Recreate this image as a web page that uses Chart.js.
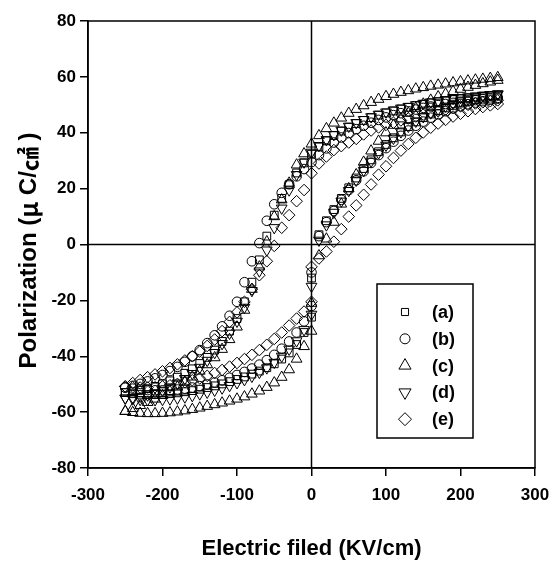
<!DOCTYPE html>
<html><head><meta charset="utf-8">
<script src="https://cdn.jsdelivr.net/npm/chart.js"></script>
<style>html,body{margin:0;padding:0;background:#fff}#wrap{width:549px;height:565px}</style>
</head><body><div id="wrap"><canvas id="c" width="549" height="565"></canvas></div>
<script>
// Field values (kV/cm): descending branch and ascending branch
const fieldUp = [250,240,230,220,210,200,190,180,170,160,150,140,130,120,110,100,90,80,70,60,50,40,30,20,10,0,-10,-20,-30,-40,-50,-60,-70,-80,-90,-100,-110,-120,-130,-140,-150,-160,-170,-180,-190,-200,-210,-220,-230,-240,-250];
const fieldLo = [-250,-240,-230,-220,-210,-200,-190,-180,-170,-160,-150,-140,-130,-120,-110,-100,-90,-80,-70,-60,-50,-40,-30,-20,-10,0,0,10,20,30,40,50,60,70,80,90,100,110,120,130,140,150,160,170,180,190,200,210,220,230,240,250];

const seriesLabels = ['(a)','(b)','(c)','(d)','(e)'];
const xTicks = [-300,-200,-100,0,100,200,300];
const yTicks = [-80,-60,-40,-20,0,20,40,60,80];
const xTitle = 'Electric filed (KV/cm)';
const yTitleParts = ['Polarization (', 'μ', ' C/', '㎠', ' )'];

const aUp = [53.5,53.3,53.1,52.8,52.5,52.2,51.9,51.5,51.1,50.7,50.2,49.7,49.1,48.5,47.8,47.1,46.3,45.4,44.4,43.3,42.0,40.6,39.0,37.1,34.9,32.3,29.2,25.6,21.4,16.5,10.5,3.0,-5.5,-13.5,-20.5,-26.5,-31,-34.7,-37.8,-40.4,-42.6,-44.5,-46.1,-47.5,-48.8,-49.9,-50.8,-51.6,-52.2,-52.7,-53];
const aLo = [-53,-53.4,-53.6,-53.7,-53.7,-53.6,-53.4,-53.1,-52.7,-52.3,-51.8,-51.2,-50.6,-49.9,-49.1,-48.3,-47.4,-46.4,-45.3,-44.1,-42.7,-41,-38.8,-35.8,-31.5,-26,-12,3.5,8.5,12.5,16.5,20.3,23.8,27.2,30.3,33.2,35.8,38.2,40.3,42.2,43.9,45.4,46.7,47.9,48.9,49.8,50.6,51.3,51.9,52.4,52.8,53.1];

const bUp = [52.5,52.3,52.0,51.7,51.4,51.1,50.7,50.3,49.9,49.4,48.9,48.3,47.7,47.0,46.3,45.5,44.6,43.6,42.5,41.3,39.9,38.3,36.5,34.4,32.0,29.5,27.0,24.4,21.6,18.5,14.4,8.5,0.5,-6,-13.5,-20.5,-25.5,-29.3,-32.5,-35.3,-37.8,-40,-42,-43.8,-45.3,-46.7,-47.9,-49,-49.9,-50.6,-51.2];
const bLo = [-51.2,-51.6,-51.9,-52.1,-52.2,-52.2,-52.1,-51.9,-51.6,-51.2,-50.7,-50.1,-49.4,-48.6,-47.7,-46.7,-45.6,-44.4,-43,-41.4,-39.5,-37.3,-34.7,-31.5,-27.5,-22,-10,3,8,12,16,19.5,23,26.2,29.2,32,34.5,36.8,38.9,40.8,42.5,44,45.4,46.6,47.7,48.7,49.5,50.2,50.8,51.3,51.8,52.2];

const cUp = [59.8,59.5,59.2,58.9,58.6,58.3,57.9,57.5,57.1,56.7,56.2,55.7,55.1,54.5,53.8,53.0,52.0,50.9,49.7,48.4,47.0,45.3,43.5,41.5,39.0,36.0,32.5,28.5,22,16,10,1,-8,-16,-23.5,-29.5,-34,-37.5,-40.5,-43,-45.3,-47.4,-49.3,-51,-52.6,-54,-55.3,-56.5,-57.6,-58.7,-59.7];
const cLo = [-59.7,-60.1,-60.4,-60.5,-60.5,-60.4,-60.2,-59.9,-59.5,-59.0,-58.5,-57.9,-57.3,-56.7,-56.0,-55.3,-54.5,-53.5,-52.4,-51.1,-49.5,-47.5,-44.8,-41.0,-36.5,-31,-21,-4,2,8,14.5,20,25,29.5,33.5,37,40,42.7,45,47,48.8,50.3,51.7,52.9,53.9,54.8,55.6,56.3,57,57.6,58.2,58.8];

const dUp = [53.8,53.6,53.4,53.1,52.8,52.5,52.2,51.8,51.4,51.0,50.5,50.0,49.4,48.8,48.1,47.4,46.6,45.7,44.7,43.6,42.3,40.9,39.3,37.5,35.4,33.0,29.5,25,19.5,13,6,-2,-9.5,-16.5,-22.5,-27.5,-31.8,-35.5,-38.7,-41.5,-44,-46.2,-48,-49.6,-51,-52.2,-53.1,-53.9,-54.4,-54.8,-55.0];
const dLo = [-55,-55.3,-55.5,-55.6,-55.6,-55.5,-55.3,-55.0,-54.6,-54.1,-53.5,-52.9,-52.2,-51.4,-50.5,-49.5,-48.4,-47.2,-45.8,-44.2,-42.2,-40,-37.5,-34.5,-30.5,-25,-15,1.5,7,11.5,15.5,19.3,23,26.5,29.8,32.8,35.5,38,40.3,42.3,44.1,45.7,47.1,48.4,49.5,50.5,51.4,52.1,52.7,53.2,53.6,53.9];

const eUp = [51.6,51.3,50.9,50.5,50.0,49.5,48.9,48.3,47.7,47.1,46.5,45.8,45.1,44.4,43.6,42.8,41.9,40.8,39.4,37.8,36.5,35.2,33.8,31.5,29.0,25.5,19.5,15.5,10.5,6,-0.5,-6,-11,-16,-20.5,-24.3,-27.7,-31,-34,-36.3,-38.3,-40,-41.5,-42.9,-44.2,-45.4,-46.5,-47.5,-48.5,-49.6,-50.8];
const eLo = [-50.8,-51.1,-51.2,-51.2,-51.1,-50.8,-50.4,-49.9,-49.3,-48.6,-47.9,-47,-46,-44.9,-43.7,-42.4,-41,-39.5,-37.8,-35.9,-33.8,-31.5,-29,-26.5,-24,-20.5,-8,-5,-2.5,1,5.5,10,14,17.8,21.5,25,28,31,33.6,36,38.2,40.1,41.8,43.3,44.6,45.8,46.8,47.7,48.5,49.2,49.8,50.3];

function loop(up, lo) {
  const pts = [];
  fieldUp.forEach((x, i) => pts.push({x: x, y: up[i]}));
  fieldLo.forEach((x, i) => pts.push({x: x, y: lo[i]}));
  return pts;
}

const styles = [
  {pointStyle: 'rect', radius: 5.5, rotation: 0, lr: 5},
  {pointStyle: 'circle', radius: 4.8, rotation: 0, lr: 5},
  {pointStyle: 'triangle', radius: 6.2, rotation: 0, lr: 7},
  {pointStyle: 'triangle', radius: 6.2, rotation: 180, lr: 7},
  {pointStyle: 'rectRot', radius: 5.8, rotation: 0, lr: 6.5}
];
const seriesData = [loop(aUp, aLo), loop(bUp, bLo), loop(cUp, cLo), loop(dUp, dLo), loop(eUp, eLo)];

const datasets = seriesData.map((d, i) => ({
  label: seriesLabels[i],
  data: d,
  showLine: false,
  pointStyle: styles[i].pointStyle,
  pointRadius: styles[i].radius,
  pointRotation: styles[i].rotation,
  pointBorderColor: '#000',
  pointBackgroundColor: 'rgba(255,255,255,0)',
  pointBorderWidth: 1
}));

function drawMarker(ctx, st, x, y) {
  const r = st.lr;
  ctx.beginPath();
  if (st.pointStyle === 'rect') {
    const s = r * Math.SQRT1_2;
    ctx.rect(x - s, y - s, 2 * s, 2 * s);
  } else if (st.pointStyle === 'circle') {
    ctx.arc(x, y, r, 0, Math.PI * 2);
  } else if (st.pointStyle === 'triangle') {
    const dir = st.rotation === 180 ? -1 : 1;
    const w = r * Math.sin(Math.PI / 3);
    ctx.moveTo(x, y - dir * r);
    ctx.lineTo(x + w, y + dir * r * 0.5);
    ctx.lineTo(x - w, y + dir * r * 0.5);
    ctx.closePath();
  } else if (st.pointStyle === 'rectRot') {
    ctx.moveTo(x, y - r); ctx.lineTo(x + r, y); ctx.lineTo(x, y + r); ctx.lineTo(x - r, y); ctx.closePath();
  }
  ctx.stroke();
}

const latinFont = 'bold 24px "Liberation Sans", Arial, sans-serif';
const cjkFont = 'bold 24px "Noto Sans CJK KR", "Noto Sans CJK SC", sans-serif';

const framePlugin = {
  id: 'frame',
  beforeDatasetsDraw(chart) {
    const {ctx, chartArea: a, scales} = chart;
    ctx.save();
    ctx.strokeStyle = '#000';
    ctx.lineWidth = 1.5;
    ctx.strokeRect(a.left, a.top, a.right - a.left, a.bottom - a.top);
    const x0 = scales.x.getPixelForValue(0), y0 = scales.y.getPixelForValue(0);
    ctx.beginPath();
    ctx.moveTo(x0, a.top); ctx.lineTo(x0, a.bottom);
    ctx.moveTo(a.left, y0); ctx.lineTo(a.right, y0);
    ctx.stroke();
    ctx.restore();
  },
  afterDatasetsDraw(chart) {
    const {ctx, chartArea: a} = chart;
    ctx.save();
    const bx = a.right - 158, by = a.top + 263, bw = 96, bh = 154;
    ctx.fillStyle = '#fff';
    ctx.fillRect(bx, by, bw, bh);
    ctx.strokeStyle = '#000';
    ctx.lineWidth = 1.5;
    ctx.strokeRect(bx, by, bw, bh);
    ctx.lineWidth = 1;
    ctx.font = 'bold 18px "Liberation Sans", Arial, sans-serif';
    ctx.fillStyle = '#000';
    ctx.textBaseline = 'middle';
    ctx.textAlign = 'left';
    seriesLabels.forEach((lab, i) => {
      const yy = by + 28 + i * 26.8;
      drawMarker(ctx, styles[i], bx + 28, yy);
      ctx.fillText(lab, bx + 55, yy + 1);
    });
    ctx.restore();
  },
  afterDraw(chart) {
    // Vertical axis title, mixed fonts (Latin + CJK-width symbols)
    const {ctx, chartArea: a} = chart;
    ctx.save();
    const fonts = [latinFont, cjkFont, latinFont, cjkFont, latinFont];
    let widths = yTitleParts.map((t, i) => { ctx.font = fonts[i]; return ctx.measureText(t).width; });
    const total = widths.reduce((s, w) => s + w, 0);
    ctx.translate(28, (a.top + a.bottom) / 2 + 6);
    ctx.rotate(-Math.PI / 2);
    ctx.fillStyle = '#000';
    ctx.textBaseline = 'middle';
    ctx.textAlign = 'left';
    let x = -total / 2;
    yTitleParts.forEach((t, i) => { ctx.font = fonts[i]; ctx.fillText(t, x, 1); x += widths[i]; });
    ctx.restore();
  }
};

const tickFont = {family: '"Liberation Sans", Arial, sans-serif', size: 17, weight: 'bold'};
const titleFont = {family: '"Liberation Sans", Arial, sans-serif', size: 22, weight: 'bold'};

new Chart(document.getElementById('c'), {
  type: 'scatter',
  data: {datasets: datasets},
  options: {
    responsive: false,
    animation: false,
    devicePixelRatio: 1,
    layout: {padding: {top: 21, right: 14, left: 0, bottom: 0}},
    plugins: {legend: {display: false}, tooltip: {enabled: false}},
    scales: {
      x: {
        type: 'linear', min: -300, max: 300,
        afterBuildTicks: s => { s.ticks = xTicks.map(v => ({value: v})); },
        afterFit: s => { s.height = 97; s.paddingRight = 0; s.paddingLeft = 0; },
        ticks: {font: tickFont, color: '#000', padding: 9, maxRotation: 0},
        grid: {drawOnChartArea: false, drawTicks: true, tickLength: 8, color: '#000', lineWidth: 1.5},
        border: {display: true, color: '#000', width: 1.5},
        title: {display: true, text: xTitle, font: titleFont, color: '#000', padding: {top: 0, bottom: 3}}
      },
      y: {
        type: 'linear', min: -80, max: 80,
        afterBuildTicks: s => { s.ticks = yTicks.map(v => ({value: v})); },
        afterFit: s => { s.width = 88; s.paddingTop = 0; s.paddingBottom = 0; },
        ticks: {font: tickFont, color: '#000', padding: 4},
        grid: {drawOnChartArea: false, drawTicks: true, tickLength: 8, color: '#000', lineWidth: 1.5},
        border: {display: true, color: '#000', width: 1.5},
        title: {display: false}
      }
    }
  },
  plugins: [framePlugin]
});
</script>
</body></html>
